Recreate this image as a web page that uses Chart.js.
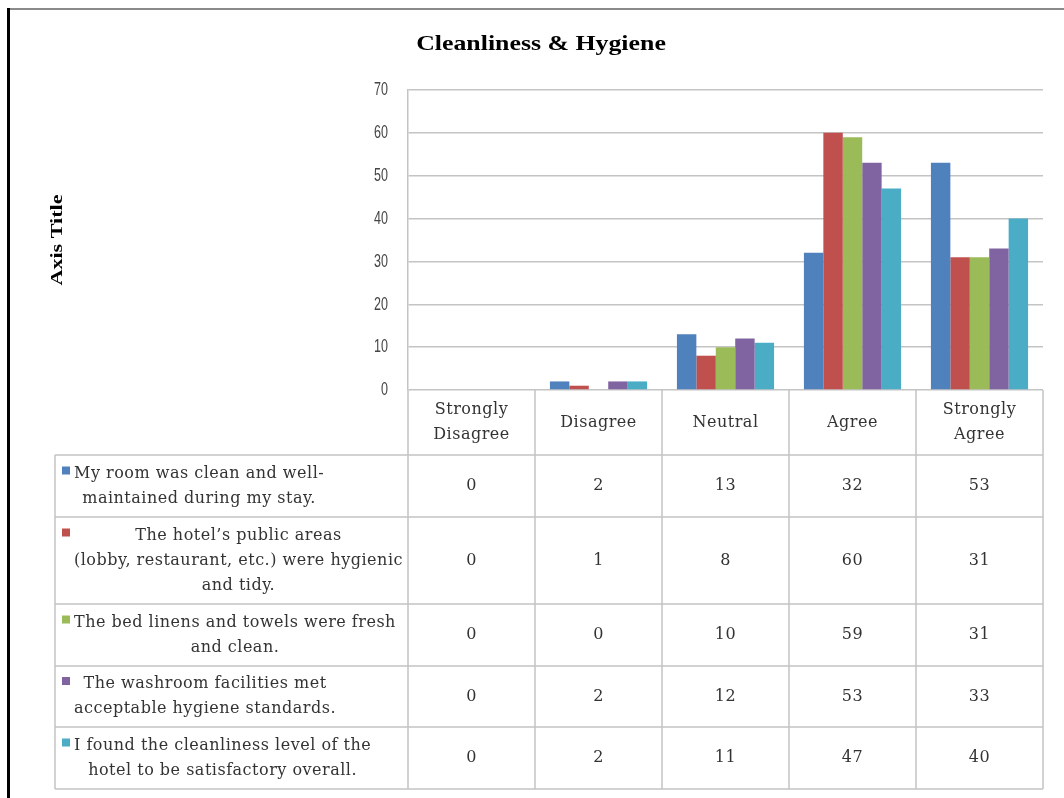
<html>
<head>
  <title>Cleanliness & Hygiene</title>
  <style type="text/css">
    body { margin: 0; background: #fff; }
    #chart { display: block; }
  </style>
</head>
<body>
  <canvas id="chart" width="1064" height="798"></canvas>
  <script src="https://cdn.jsdelivr.net/npm/chart.js@4/dist/chart.umd.min.js"></script>
  <script>
    const categories = ['Strongly Disagree', 'Disagree', 'Neutral', 'Agree', 'Strongly Agree'];
    const categoryLines = [['Strongly', 'Disagree'], ['Disagree'], ['Neutral'], ['Agree'], ['Strongly', 'Agree']];

    const seriesLines = [
      ['My room was clean and well-', 'maintained during my stay.'],
      ['The hotel\u2019s public areas', '(lobby, restaurant, etc.) were hygienic', 'and tidy.'],
      ['The bed linens and towels were fresh', 'and clean.'],
      ['The washroom facilities met', 'acceptable hygiene standards.'],
      ['I found the cleanliness level of the', 'hotel to be satisfactory overall.']
    ];
    const roomClean     = [0, 2, 13, 32, 53];
    const publicAreas   = [0, 1, 8, 60, 31];
    const linensTowels  = [0, 0, 10, 59, 31];
    const washrooms     = [0, 2, 12, 53, 33];
    const overallClean  = [0, 2, 11, 47, 40];
    const seriesValues = [roomClean, publicAreas, linensTowels, washrooms, overallClean];

    const yTicks = [0, 10, 20, 30, 40, 50, 60, 70];

    const colors = ['#4F81BD', '#C0504D', '#9BBB59', '#8064A2', '#4BACC6'];
    const serif = '"DejaVu Serif", serif';
    const gridColor = '#c4c4c4';
    const textColor = '#333333';

    // draws stretched text (the original uses wide/narrow rendered fonts)
    function stretchText(ctx, text, x, y, sx, angle) {
      ctx.save();
      ctx.translate(x, y);
      if (angle) ctx.rotate(angle);
      ctx.scale(sx, 1);
      ctx.fillText(text, 0, 0);
      ctx.restore();
    }

    // data table + titles + frame
    const tablePlugin = {
      id: 'dataTable',
      beforeDraw(chart) {
        const ctx = chart.ctx;
        ctx.save();
        ctx.fillStyle = '#fff';
        ctx.fillRect(0, 0, chart.width, chart.height);
        // outer frame
        ctx.fillStyle = '#8a8a8a';
        ctx.fillRect(8, 8, chart.width - 8, 2);
        ctx.fillStyle = '#000';
        ctx.fillRect(7, 8, 3, chart.height - 8);
        ctx.restore();
      },
      afterDraw(chart) {
        const ctx = chart.ctx;
        const area = chart.chartArea;
        const x = chart.scales.x;
        const y = chart.scales.y;
        const n = categories.length;
        const colW = (area.right - area.left) / n;
        const tableLeft = 55;
        const headerTop = area.bottom;
        const headerBottom = headerTop + 65;
        const rowHeights = [62, 87, 62, 61, 62];
        const rowTops = [headerBottom];
        rowHeights.forEach((h, i) => rowTops.push(rowTops[i] + h));
        const tableBottom = rowTops[rowTops.length - 1];

        ctx.save();
        ctx.strokeStyle = gridColor;
        ctx.lineWidth = 1.5;
        ctx.beginPath();
        for (let i = 0; i <= n; i++) {
          const px = i < n ? x.getPixelForValue(i) - colW / 2 : x.getPixelForValue(n - 1) + colW / 2;
          ctx.moveTo(px, headerTop);
          ctx.lineTo(px, tableBottom);
        }
        ctx.moveTo(tableLeft, headerBottom);
        ctx.lineTo(tableLeft, tableBottom);
        for (const t of rowTops) {
          ctx.moveTo(tableLeft, t);
          ctx.lineTo(area.right, t);
        }
        ctx.stroke();

        // y tick labels (narrow sans)
        ctx.fillStyle = '#444444';
        ctx.font = '19px "Liberation Sans", sans-serif';
        ctx.textAlign = 'right';
        ctx.textBaseline = 'middle';
        y.ticks.forEach(t => stretchText(ctx, String(t.value), 388, y.getPixelForValue(t.value), 0.66));

        ctx.fillStyle = textColor;
        ctx.font = '16px ' + serif;
        ctx.letterSpacing = '0.5px';
        ctx.textAlign = 'center';
        const lineH = 25;

        categoryLines.forEach((lines, i) => {
          const cx = x.getPixelForValue(i);
          const cy = (headerTop + headerBottom) / 2;
          lines.forEach((l, k) => {
            ctx.fillText(l, cx, cy + (k - (lines.length - 1) / 2) * lineH);
          });
        });

        seriesLines.forEach((lines, r) => {
          const cy = (rowTops[r] + rowTops[r + 1]) / 2;
          const firstY = cy - (lines.length - 1) / 2 * lineH;
          const w = Math.max(...lines.map(l => ctx.measureText(l).width));
          const bx = 74 + w / 2;
          lines.forEach((l, k) => ctx.fillText(l, bx, firstY + k * lineH));
          ctx.fillStyle = colors[r];
          ctx.fillRect(62, firstY - 7, 8, 8);
          ctx.fillStyle = textColor;
          seriesValues[r].forEach((v, i) => {
            ctx.fillText(String(v), x.getPixelForValue(i), cy);
          });
        });
        ctx.letterSpacing = '0px';

        // chart title
        ctx.font = 'bold 21px "Liberation Serif", serif';
        ctx.fillStyle = '#000';
        stretchText(ctx, 'Cleanliness & Hygiene', 541, 45, 1.23);

        // axis title
        ctx.font = 'bold 17px "Liberation Serif", serif';
        stretchText(ctx, 'Axis Title', 58, 240, 1.3, -Math.PI / 2);
        ctx.restore();
      }
    };

    new Chart(document.getElementById('chart'), {
      type: 'bar',
      data: {
        labels: categories,
        datasets: seriesLines.map((lines, i) => ({
          label: lines.join(' '),
          data: seriesValues[i],
          backgroundColor: colors[i],
          borderWidth: 0,
          categoryPercentage: 0.765,
          barPercentage: 1.0
        }))
      },
      options: {
        responsive: false,
        animation: false,
        layout: { padding: { left: 348, top: 90, right: 21, bottom: 408 } },
        plugins: {
          legend: { display: false },
          title: { display: false },
          tooltip: { enabled: false }
        },
        scales: {
          x: { display: false },
          y: {
            min: yTicks[0],
            max: yTicks[yTicks.length - 1],
            afterFit: (scale) => { scale.width = 60; },
            ticks: { stepSize: 10, display: false },
            grid: { color: gridColor, lineWidth: 1.5, drawTicks: false },
            border: { display: true, color: gridColor, width: 1.5 }
          }
        }
      },
      plugins: [tablePlugin]
    });
  </script>
</body>
</html>
